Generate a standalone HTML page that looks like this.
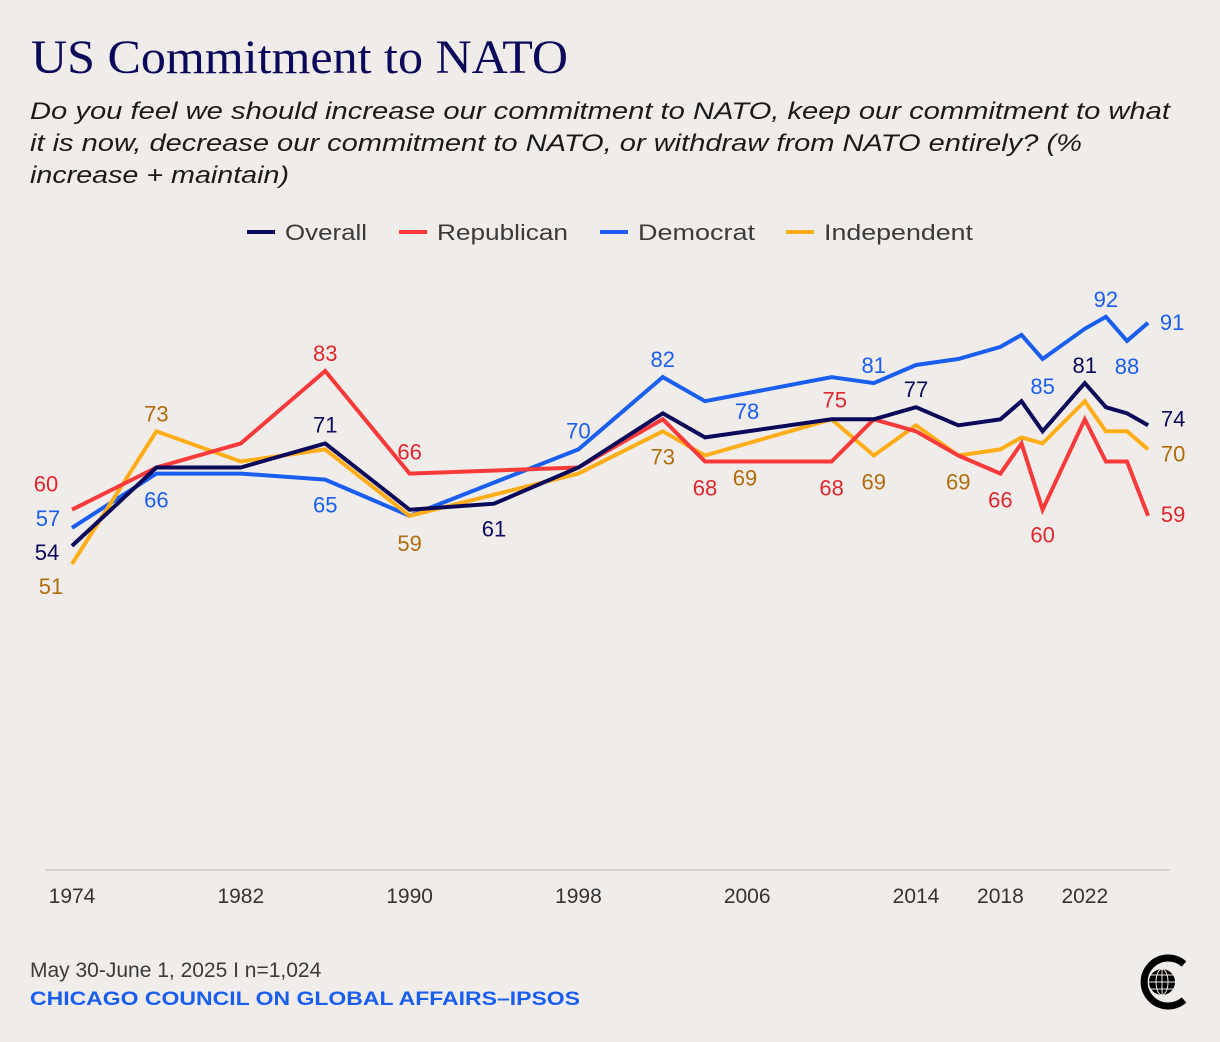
<!DOCTYPE html>
<html><head><meta charset="utf-8"><style>
html,body{margin:0;padding:0;background:#f0ece9;}
svg{display:block;font-family:"Liberation Sans",sans-serif;}
</style></head><body>
<svg id="chart" width="1220" height="1042" viewBox="0 0 1220 1042" xmlns="http://www.w3.org/2000/svg">
<rect width="1220" height="1042" fill="#f0ece9"/>
<text x="31" y="73" font-family="Liberation Serif, serif" font-size="48" fill="#0b0a5a" textLength="537" lengthAdjust="spacingAndGlyphs">US Commitment to NATO</text>
<g font-size="24" font-style="italic" fill="#1a1a1a">
<text x="30" y="119" textLength="1140" lengthAdjust="spacingAndGlyphs">Do you feel we should increase our commitment to NATO, keep our commitment to what</text>
<text x="30" y="151" textLength="1052" lengthAdjust="spacingAndGlyphs">it is now, decrease our commitment to NATO, or withdraw from NATO entirely? (%</text>
<text x="30" y="183" textLength="259" lengthAdjust="spacingAndGlyphs">increase + maintain)</text>
</g>
<g id="legend" font-size="22" fill="#3a3a3a"></g>
<line x1="45" y1="870" x2="1170" y2="870" stroke="#cfcac6" stroke-width="1.5"/>
<g id="xticks" font-size="21" fill="#333" text-anchor="middle"></g>
<g id="lines"></g>
<g id="labels" font-size="22" text-anchor="middle"></g>
<text x="30" y="977" font-size="21" fill="#3a3a3a">May 30-June 1, 2025 I n=1,024</text>
<text x="30" y="1005" font-size="19" font-weight="bold" fill="#1a5ef0" textLength="550" lengthAdjust="spacingAndGlyphs">CHICAGO COUNCIL ON GLOBAL AFFAIRS–IPSOS</text>
<g>
<path d="M1184 964 A24 24 0 1 0 1184 1000" fill="none" stroke="#000" stroke-width="7"/>
<circle cx="1162" cy="982" r="13" fill="#000"/>
<g stroke="#f0ece9" stroke-width="1" fill="none">
<ellipse cx="1162" cy="982" rx="6" ry="13"/>
<line x1="1149" y1="982" x2="1175" y2="982"/>
<line x1="1151" y1="975" x2="1173" y2="975"/>
<line x1="1151" y1="989" x2="1173" y2="989"/>
<line x1="1162" y1="969" x2="1162" y2="995"/>
</g>
</g>
</svg>
<script>
const tickYears = [1974, 1982, 1990, 1998, 2006, 2014, 2018, 2022];
const overallYears = [1974,1978,1982,1986,1990,1994,1998,2002,2004,2010,2012,2014,2016,2018,2019,2020,2022,2023,2024,2025];
const overallValues = [54,67,67,71,60,61,67,76,72,75,75,77,74,75,78,73,81,77,76,74];
const partyYears = [1974,1978,1982,1986,1990,1998,2002,2004,2010,2012,2014,2016,2018,2019,2020,2022,2023,2024,2025];
const republicanValues = [60,67,71,83,66,67,75,68,68,75,73,69,66,71,60,75,68,68,59];
const democratValues = [57,66,66,65,59,70,82,78,82,81,84,85,87,89,85,90,92,88,91];
const independentValues = [51,73,68,70,59,66,73,69,75,69,74,69,70,72,71,78,73,73,70];
const seriesNames = ["Overall","Republican","Democrat","Independent"];

const svgNS = "http://www.w3.org/2000/svg";
const colors = ["#0b0a5a","#f93a3a","#1a5ef0","#ffae1a"];
const textColors = ["#0b0a5a","#e0262e","#1a5ef0","#b06d0c"];
const xOf = yr => 72 + (yr - 1974) * 21.1;
const yOf = v => 564 - (v - 51) * 6.03;
function mk(tag, attrs){const e=document.createElementNS(svgNS,tag);for(const k in attrs)e.setAttribute(k,attrs[k]);return e;}

const series = [
 {years: overallYears, values: overallValues},
 {years: partyYears, values: republicanValues},
 {years: partyYears, values: democratValues},
 {years: partyYears, values: independentValues}
];

// legend
const legendX = [247, 399, 600, 786];
const legendW = [82, 131, 117, 149];
const legend = document.getElementById('legend');
seriesNames.forEach((n,i)=>{
  const ln = mk('line',{x1:legendX[i],y1:232,x2:legendX[i]+28,y2:232,stroke:colors[i],'stroke-width':4});
  
  
  legend.appendChild(ln);
  const t = mk('text',{x:legendX[i]+38,y:240,textLength:legendW[i],lengthAdjust:'spacingAndGlyphs'});
  t.textContent = n;
  
  
  legend.appendChild(t);
});

// ticks
const xt = document.getElementById('xticks');
tickYears.forEach(yr=>{
  const t = mk('text',{x:xOf(yr),y:903});
  t.textContent = yr;
  
  
  xt.appendChild(t);
});

// lines
const lg = document.getElementById('lines');
[2,3,1,0].forEach(i=>{
  const s = series[i];
  const pts = s.years.map((yr,j)=>xOf(yr).toFixed(1)+','+yOf(s.values[j]).toFixed(1)).join(' ');
  const pl = mk('polyline',{points:pts,fill:'none',stroke:colors[i],'stroke-width':4,'stroke-linejoin':'miter'});
  
  
  lg.appendChild(pl);
});

// labels: [seriesIndex, year, dx, dy]
const labelSpecs = [
 [0,1974,-25,6],[0,1986,0,-19],[0,1994,0,25],[0,2014,0,-18],[0,2022,0,-18],[0,2025,25,-7],
 [1,1974,-26,-26],[1,1986,0,-18],[1,1990,0,-22],[1,2004,0,26],[1,2010,0,26],[1,2012,-39,-20],[1,2018,0,26],[1,2020,0,25],[1,2025,25,-2],
 [2,1974,-24,-10],[2,1978,0,26],[2,1986,0,25],[2,1998,0,-19],[2,2002,0,-18],[2,2004,42,10],[2,2012,0,-18],[2,2020,0,27],[2,2023,0,-18],[2,2024,0,25],[2,2025,24,-1],
 [3,1974,-21,22],[3,1978,0,-18],[3,1990,0,27],[3,2002,0,25],[3,2004,40,22],[3,2012,0,26],[3,2016,0,26],[3,2025,25,4]
];
const lbg = document.getElementById('labels');
labelSpecs.forEach(([si,yr,dx,dy])=>{
  const s = series[si];
  const j = s.years.indexOf(yr);
  const v = s.values[j];
  const t = mk('text',{x:xOf(yr)+dx,y:yOf(v)+dy+8,fill:textColors[si]});
  t.textContent = v;
  
  
  lbg.appendChild(t);
});
</script>
</body></html>
